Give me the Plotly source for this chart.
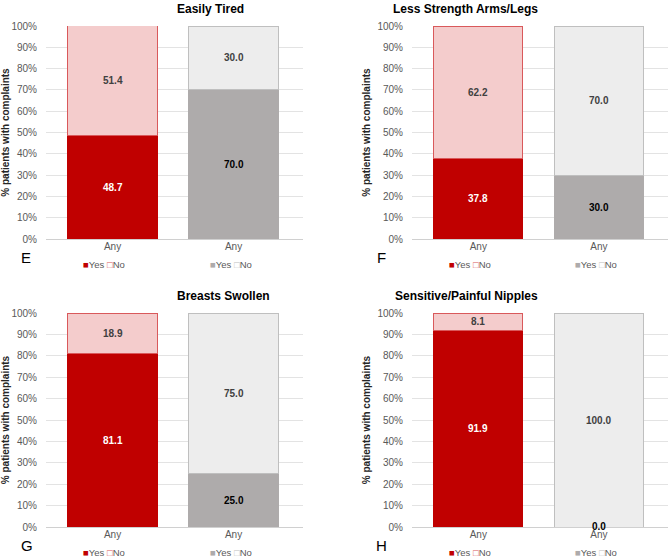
import plotly.graph_objects as go
from plotly.subplots import make_subplots

# ---- data ----
panel_titles = ["Easily Tired", "Less Strength Arms/Legs", "Breasts Swollen", "Sensitive/Painful Nipples"]
panel_letters = ["E", "F", "G", "H"]
group_labels = ["Any", "Any"]
# group 1 (red) and group 2 (gray): Yes / No percentages per panel
red_yes = [48.7, 37.8, 81.1, 91.9]
red_no = [51.4, 62.2, 18.9, 8.1]
gray_yes = [70.0, 30.0, 25.0, 0.0]
gray_no = [30.0, 70.0, 75.0, 100.0]
y_ticks = [0, 10, 20, 30, 40, 50, 60, 70, 80, 90, 100]
y_tick_labels = [f"{v}%" for v in y_ticks]

# ---- styles ----
FONT = "Arial, Liberation Sans, sans-serif"
RED = "#C00000"
PINK = "#F4CCCC"
PINK_LINE = "#D9595B"
GRAY = "#AEABAB"
LGRAY = "#EDEDED"
LGRAY_LINE = "#BFBFBF"
BAR_W = 0.74

W, H = 669, 558
x_dom = [[46 / W, 303 / W], [412 / W, 668 / W]]
y_dom = [[1 - 239 / H, 1 - 26 / H], [1 - 527 / H, 1 - 313 / H]]

fig = make_subplots(rows=2, cols=2)

for i in range(4):
    r, c = i // 2 + 1, i % 2 + 1
    fig.add_trace(go.Bar(x=[0], y=[red_yes[i]], width=BAR_W, marker=dict(color=RED, line=dict(color=RED, width=1)),
                         showlegend=False, hoverinfo="skip"), row=r, col=c)
    fig.add_trace(go.Bar(x=[0], y=[red_no[i]], width=BAR_W, marker=dict(color=PINK, line=dict(color=PINK_LINE, width=1)),
                         showlegend=False, hoverinfo="skip"), row=r, col=c)
    fig.add_trace(go.Bar(x=[1], y=[gray_yes[i]], width=BAR_W, marker=dict(color=GRAY, line=dict(color=GRAY, width=1)),
                         showlegend=False, hoverinfo="skip"), row=r, col=c)
    fig.add_trace(go.Bar(x=[1], y=[gray_no[i]], width=BAR_W, marker=dict(color=LGRAY, line=dict(color=LGRAY_LINE, width=1)),
                         showlegend=False, hoverinfo="skip"), row=r, col=c)

fig.update_layout(barmode="stack", width=W, height=H, margin=dict(l=0, r=0, t=0, b=0, autoexpand=False),
                  plot_bgcolor="white", paper_bgcolor="white", font=dict(family=FONT))

annotations = []
for i in range(4):
    ax = "" if i == 0 else str(i + 1)
    row, col = i // 2, i % 2
    xd, yd = x_dom[col], y_dom[row]
    fig.layout[f"xaxis{ax}"].update(domain=xd, range=[-0.55, 1.574], tickvals=[0, 1], ticktext=group_labels,
                                    showgrid=False, zeroline=False, showline=False, ticks="", automargin=False,
                                    tickfont=dict(size=10, color="#595959"))
    fig.layout[f"yaxis{ax}"].update(domain=yd, range=[0, 100], tickvals=y_ticks, ticktext=y_tick_labels,
                                    showgrid=True, gridcolor="#E3E3E3", gridwidth=1, zeroline=True,
                                    zerolinecolor="#D0D0D0", zerolinewidth=1, showline=False, automargin=False,
                                    tickfont=dict(size=10, color="#595959"), ticklabelstandoff=8,
                                    title=dict(text="<b>% patients with complaints</b>", font=dict(size=10, color="#262626"), standoff=4))
    xref, yref = f"x{ax}", f"y{ax}"
    # data labels
    labels = [
        (0, red_yes[i] / 2, red_yes[i], "white"),
        (0, red_yes[i] + red_no[i] / 2, red_no[i], "#404040"),
        (1, gray_yes[i] / 2, gray_yes[i], "black"),
        (1, gray_yes[i] + gray_no[i] / 2, gray_no[i], "#404040"),
    ]
    for xv, yv, val, colr in labels:
        annotations.append(dict(x=xv, y=yv, xref=xref, yref=yref, text=f"<b>{val:.1f}</b>", showarrow=False,
                                font=dict(size=10, color=colr), yshift=(1 if val == 0 else 0)))
    # title
    annotations.append(dict(x=(xd[0] + xd[1]) / 2, y=yd[1], xref="paper", yref="paper", yanchor="bottom", yshift=8,
                            text=f"<b>{panel_titles[i]}</b>", showarrow=False, font=dict(size=12, color="black")))
    # panel letter
    lx = 19 / W if col == 0 else 382 / W
    annotations.append(dict(x=lx, y=yd[0], xref="paper", yref="paper", yanchor="middle", yshift=-18,
                            text=panel_letters[i], showarrow=False, font=dict(size=15, color="black")))
    # legends under each bar
    leg_y = yd[0]
    annotations.append(dict(x=-0.07, y=leg_y, xref=xref, yref="paper", yanchor="middle", yshift=-25,
                            text=f'<span style="color:{RED}">■</span>Yes <span style="color:{PINK_LINE}">□</span>No',
                            showarrow=False, font=dict(size=9.5, color="#595959")))
    annotations.append(dict(x=0.98, y=leg_y, xref=xref, yref="paper", yanchor="middle", yshift=-25,
                            text=f'<span style="color:{GRAY}">■</span>Yes <span style="color:{LGRAY_LINE}">□</span>No',
                            showarrow=False, font=dict(size=9.5, color="#595959")))

fig.update_layout(annotations=annotations)
fig.write_html("out.html", config={"displayModeBar": False},
               post_script="document.body.style.margin='0px';")
